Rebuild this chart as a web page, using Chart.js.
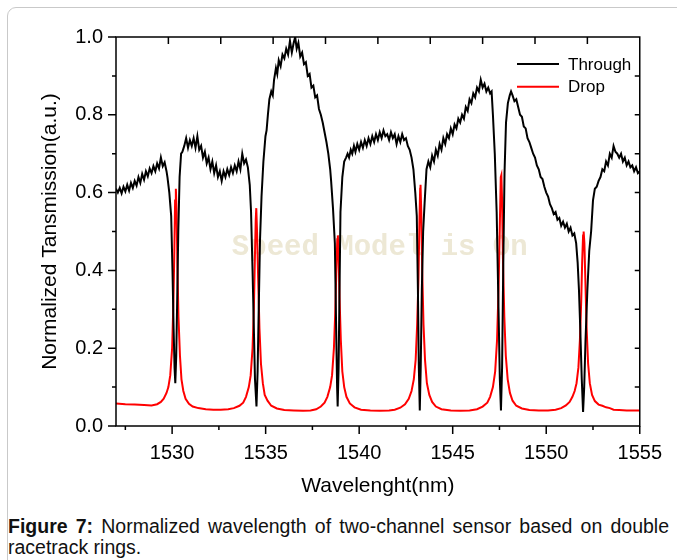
<!DOCTYPE html>
<html>
<head>
<meta charset="utf-8">
<script src="https://cdn.jsdelivr.net/npm/chart.js@4/dist/chart.umd.min.js"></script>
<style>
  html, body { margin: 0; padding: 0; background: #fff; }
  #page { position: relative; width: 677px; height: 560px; overflow: hidden; }
  #frame { position: absolute; left: 7px; top: 7px; width: 720px; height: 620px;
           border: 1px solid #c9c9c9; border-radius: 9px; box-sizing: border-box; }
  #chart { position: absolute; left: 0; top: 0; }
  .cap { position: absolute; left: 8px; width: 661px; font-family: "Liberation Sans", Arial, sans-serif;
         font-size: 19.5px; line-height: 21px; color: #111; white-space: nowrap; }
  #cap1 { top: 516px; text-align: justify; text-align-last: justify; white-space: normal; }
  #cap2 { top: 537px; }
</style>
</head>
<body>
<div id="page">
  <div id="frame"></div>
  <canvas id="chart" width="677" height="510"></canvas>
  <div class="cap" id="cap1"><b>Figure 7:</b> Normalized wavelength of two-channel sensor based on double</div>
  <div class="cap" id="cap2">racetrack rings.</div>
</div>
<script>
// ---------- data ----------
const throughWl = [
1527.0,1527.1,1527.2,1527.3,1527.4,1527.5,1527.6,1527.7,1527.8,1527.9,
1528.0,1528.1,1528.2,1528.3,1528.4,1528.5,1528.6,1528.7,1528.8,1528.9,
1529.0,1529.1,1529.2,1529.3,1529.4,1529.5,1529.6,1529.7,
1529.75,1529.85,1529.95,1530.02,1530.08,1530.13,1530.17,1530.22,1530.27,1530.33,1530.40,1530.48,
1530.55,1530.65,1530.75,1530.85,1530.95,1531.05,1531.15,1531.25,1531.35,1531.45,
1531.55,1531.65,1531.75,1531.85,1531.95,1532.05,1532.15,1532.25,1532.35,1532.45,
1532.55,1532.65,1532.75,1532.85,1532.95,1533.05,1533.15,1533.25,1533.35,1533.45,
1533.55,1533.65,1533.75,1533.85,1533.95,1534.05,1534.15,
1534.22,1534.30,1534.37,1534.43,1534.51,1534.57,1534.63,1534.70,1534.78,1534.88,1534.99,
1535.05,1535.12,1535.20,1535.30,1535.38,1535.45,1535.55,1535.62,1535.70,1535.80,
1535.90,1536.00,1536.10,1536.20,1536.30,1536.40,1536.50,1536.58,1536.66,1536.75,
1536.85,1536.95,1537.05,1537.15,1537.25,1537.35,1537.45,1537.55,1537.65,1537.75,
1537.85,1537.95,1538.05,1538.15,1538.25,1538.35,1538.45,
1538.50,1538.60,1538.70,1538.77,1538.82,1538.85,1538.90,1538.95,1539.00,1539.10,1539.20,
1539.30,1539.38,1539.46,1539.55,1539.63,1539.72,1539.80,1539.90,1540.00,1540.10,
1540.20,1540.30,1540.40,1540.50,1540.60,1540.70,1540.80,1540.90,1541.00,1541.10,
1541.20,1541.30,1541.40,1541.50,1541.60,1541.70,1541.80,1541.90,1542.00,1542.10,
1542.20,1542.30,1542.40,1542.50,1542.60,
1542.70,1542.80,1542.90,1543.00,1543.08,1543.14,1543.19,1543.24,1543.29,1543.35,1543.42,1543.50,1543.60,
1543.70,1543.80,1543.90,1544.00,1544.10,1544.20,1544.30,1544.40,1544.50,1544.60,
1544.70,1544.80,1544.90,1545.00,1545.10,1545.20,1545.30,1545.40,1545.50,1545.60,
1545.70,1545.80,1545.90,1546.00,1546.10,1546.20,1546.30,1546.40,1546.50,1546.60,
1546.70,1546.80,1546.90,1547.00,1547.08,
1547.15,1547.25,1547.35,1547.45,1547.52,1547.58,1547.64,1547.70,1547.77,1547.85,1547.95,1548.05,1548.12,
1548.20,1548.30,1548.40,1548.50,1548.60,1548.70,1548.80,1548.90,1549.00,1549.10,
1549.20,1549.30,1549.40,1549.50,1549.60,1549.70,1549.80,1549.90,1550.00,1550.10,
1550.20,1550.30,1550.40,1550.50,1550.60,1550.70,1550.80,1550.90,1551.00,1551.10,
1551.20,1551.30,1551.40,1551.50,1551.60,
1551.68,1551.75,1551.82,1551.90,1551.97,1552.03,1552.10,1552.20,1552.30,1552.40,
1552.50,1552.60,1552.70,1552.80,1552.90,1553.00,1553.10,1553.20,1553.30,1553.40,
1553.50,1553.60,1553.70,1553.80,1553.90,1554.00,1554.10,1554.20,1554.30,1554.40,
1554.50,1554.60,1554.70,1554.80,1554.90,1555.00
];
const throughVal = [
0.610,0.600,0.612,0.598,0.615,0.603,0.620,0.605,0.625,0.612,
0.630,0.618,0.640,0.625,0.648,0.633,0.655,0.642,0.662,0.650,
0.668,0.655,0.675,0.662,0.690,0.668,0.678,0.655,
0.640,0.600,0.540,0.400,0.250,0.150,0.110,0.180,0.320,0.500,0.640,0.700,
0.705,0.720,0.740,0.715,0.735,0.720,0.740,0.715,0.745,0.710,
0.720,0.690,0.705,0.675,0.690,0.660,0.680,0.650,0.670,0.640,
0.655,0.630,0.655,0.640,0.660,0.645,0.665,0.650,0.670,0.655,
0.680,0.660,0.700,0.675,0.685,0.665,0.620,
0.550,0.400,0.250,0.120,0.050,0.140,0.300,0.480,0.590,0.680,0.745,
0.760,0.800,0.840,0.860,0.850,0.890,0.920,0.905,0.940,0.925,
0.955,0.945,0.970,0.955,0.990,0.960,0.985,1.000,0.970,0.985,
0.950,0.960,0.930,0.935,0.900,0.905,0.870,0.875,0.845,0.850,
0.815,0.800,0.780,0.755,0.730,0.700,0.660,
0.630,0.560,0.470,0.250,0.100,0.050,0.150,0.350,0.550,0.640,0.680,
0.690,0.700,0.690,0.710,0.700,0.720,0.705,0.725,0.710,0.730,
0.715,0.735,0.720,0.740,0.725,0.745,0.730,0.750,0.735,0.755,
0.740,0.760,0.745,0.750,0.735,0.755,0.740,0.750,0.725,0.745,
0.730,0.750,0.735,0.740,0.720,
0.710,0.690,0.660,0.600,0.540,0.350,0.150,0.040,0.150,0.350,0.500,0.575,0.660,
0.680,0.665,0.695,0.680,0.710,0.695,0.725,0.710,0.740,0.725,
0.750,0.740,0.765,0.750,0.775,0.765,0.790,0.780,0.800,0.790,
0.820,0.810,0.840,0.830,0.855,0.845,0.870,0.860,0.890,0.870,
0.880,0.860,0.870,0.855,0.860,
0.800,0.700,0.550,0.300,0.120,0.040,0.150,0.400,0.650,0.780,0.830,0.850,0.860,
0.850,0.835,0.840,0.820,0.800,0.795,0.770,0.765,0.740,0.730,
0.715,0.700,0.690,0.670,0.660,0.640,0.635,0.615,0.600,0.590,
0.570,0.560,0.545,0.550,0.530,0.535,0.515,0.525,0.510,0.520,
0.500,0.510,0.490,0.495,0.470,
0.420,0.350,0.250,0.120,0.036,0.100,0.220,0.350,0.450,0.500,
0.580,0.610,0.615,0.630,0.640,0.660,0.655,0.680,0.670,0.700,
0.690,0.720,0.705,0.700,0.690,0.700,0.680,0.690,0.670,0.680,
0.665,0.670,0.655,0.665,0.650,0.655
];
const dropWl = [
1527.0,1527.5,1528.0,1528.5,1528.9,1529.2,1529.4,1529.55,1529.7,1529.8,1529.9,1530.0,1530.07,1530.12,1530.16,1530.2,
1530.24,1530.28,1530.34,1530.42,1530.5,1530.6,1530.72,1530.9,1531.1,1531.4,1531.8,1532.2,1532.6,1533.0,1533.3,1533.6,
1533.8,1533.95,1534.1,1534.2,1534.3,1534.37,1534.42,1534.47,1534.5,1534.54,1534.6,1534.67,1534.75,1534.85,1534.95,1535.1,
1535.3,1535.6,1536.0,1536.5,1537.0,1537.4,1537.7,1537.95,1538.15,1538.3,1538.45,1538.55,1538.65,1538.72,1538.78,1538.83,
1538.86,1538.9,1538.95,1539.02,1539.1,1539.2,1539.32,1539.5,1539.75,1540.1,1540.6,1541.1,1541.6,1541.9,1542.2,1542.45,
1542.65,1542.8,1542.92,1543.02,1543.1,1543.17,1543.22,1543.26,1543.28,1543.32,1543.37,1543.44,1543.52,1543.62,1543.75,1543.9,
1544.1,1544.4,1544.9,1545.4,1545.9,1546.3,1546.6,1546.85,1547.0,1547.15,1547.27,1547.37,1547.45,1547.52,1547.57,1547.6,
1547.64,1547.69,1547.76,1547.84,1547.94,1548.06,1548.2,1548.4,1548.7,1549.1,1549.6,1550.1,1550.5,1550.8,1551.05,1551.25,
1551.4,1551.52,1551.62,1551.72,1551.8,1551.87,1551.92,1551.97,1552.0,1552.04,1552.1,1552.16,1552.24,1552.33,1552.45,1552.6,
1552.8,1553.0,1553.2,1553.4,1553.6,1553.9,1554.3,1554.7,1555.0
];
const dropVal = [
0.058,0.056,0.055,0.054,0.053,0.056,0.062,0.070,0.085,0.100,0.130,0.200,0.320,0.450,0.580,0.610,
0.550,0.420,0.280,0.180,0.120,0.090,0.070,0.057,0.050,0.046,0.043,0.042,0.042,0.043,0.046,0.052,
0.060,0.075,0.100,0.130,0.200,0.300,0.420,0.530,0.560,0.500,0.380,0.250,0.160,0.110,0.080,0.065,
0.052,0.045,0.041,0.040,0.039,0.040,0.043,0.050,0.060,0.075,0.100,0.130,0.200,0.290,0.400,0.480,
0.490,0.440,0.330,0.220,0.140,0.100,0.075,0.058,0.048,0.042,0.040,0.039,0.040,0.042,0.047,0.056,
0.070,0.090,0.120,0.170,0.260,0.380,0.520,0.610,0.620,0.550,0.400,0.260,0.170,0.110,0.080,0.062,
0.050,0.043,0.040,0.039,0.040,0.043,0.050,0.060,0.075,0.100,0.140,0.220,0.350,0.520,0.640,0.645,
0.580,0.420,0.280,0.180,0.120,0.085,0.065,0.052,0.045,0.041,0.040,0.040,0.042,0.046,0.053,0.062,
0.075,0.090,0.110,0.150,0.220,0.320,0.420,0.490,0.500,0.470,0.360,0.250,0.160,0.110,0.080,0.064,
0.055,0.052,0.048,0.046,0.042,0.041,0.040,0.040,0.040
];
const xMajorTicks = [1530, 1535, 1540, 1545, 1550, 1555];
const xMinorTicks = [1527.5, 1532.5, 1537.5, 1542.5, 1547.5, 1552.5];
const xTopTicks = [1529.8, 1532.6, 1535.4, 1538.2, 1541.0, 1543.8, 1546.6, 1549.4, 1552.2];
const yMajorTicks = [0.0, 0.2, 0.4, 0.6, 0.8, 1.0];
const yMinorTicks = [0.1, 0.3, 0.5, 0.7, 0.9];
const seriesNames = ['Through', 'Drop'];
const seriesColors = ['#000000', '#ff0000'];
const xTitle = 'Wavelenght(nm)';
const yTitle = 'Normalized Tansmission(a.u.)';
const watermark = 'Speed Model is On';

// ---------- chart ----------
const FONT = '"Liberation Sans", Arial, sans-serif';
const toPoints = (xs, ys) => xs.map((x, i) => ({ x: x, y: ys[i] }));

const decorPlugin = {
  id: 'decor',
  beforeDatasetsDraw(chart) {
    const { ctx } = chart;
    ctx.save();
    ctx.font = 'bold 29px "Liberation Mono", "Courier New", monospace';
    ctx.fillStyle = '#ede8d5';
    ctx.textAlign = 'center';
    ctx.textBaseline = 'middle';
    ctx.fillText(watermark, chart.scales.x.getPixelForValue(1541.1), chart.scales.y.getPixelForValue(0.458));
    ctx.restore();
  },
  afterDatasetsDraw(chart) {
    const { ctx, chartArea: ca } = chart;
    const xs = chart.scales.x, ys = chart.scales.y;
    ctx.save();
    ctx.strokeStyle = '#000';
    ctx.lineWidth = 1.5;
    ctx.strokeRect(ca.left, ca.top, ca.right - ca.left, ca.bottom - ca.top);
    ctx.beginPath();
    xMajorTicks.forEach(v => { const p = xs.getPixelForValue(v); ctx.moveTo(p, ca.bottom); ctx.lineTo(p, ca.bottom + 8); });
    xMinorTicks.forEach(v => { const p = xs.getPixelForValue(v); ctx.moveTo(p, ca.bottom); ctx.lineTo(p, ca.bottom + 4); });
    xTopTicks.forEach(v => { const p = xs.getPixelForValue(v); ctx.moveTo(p, ca.top); ctx.lineTo(p, ca.top + 7); });
    yMajorTicks.forEach(v => { const p = ys.getPixelForValue(v); ctx.moveTo(ca.left - 8, p); ctx.lineTo(ca.left, p); });
    yMinorTicks.forEach(v => { const p = ys.getPixelForValue(v); ctx.moveTo(ca.left - 4, p); ctx.lineTo(ca.left, p); });
    yMajorTicks.concat(yMinorTicks).forEach(v => {
      if (v <= 0 || v >= 1) return;
      const p = ys.getPixelForValue(v); ctx.moveTo(ca.right - 5, p); ctx.lineTo(ca.right, p);
    });
    ctx.stroke();
    // legend
    ctx.font = '17px ' + FONT;
    ctx.textBaseline = 'middle';
    ctx.textAlign = 'left';
    chart.data.datasets.forEach((ds, i) => {
      const y = 64 + i * 22.7;
      ctx.strokeStyle = ds.borderColor;
      ctx.lineWidth = 2;
      ctx.beginPath(); ctx.moveTo(517, y); ctx.lineTo(559, y); ctx.stroke();
      ctx.fillStyle = '#000';
      ctx.fillText(ds.label, 568, y + 1);
    });
    ctx.restore();
  }
};

new Chart(document.getElementById('chart'), {
  type: 'scatter',
  data: {
    datasets: [
      { label: seriesNames[0], data: toPoints(throughWl, throughVal), borderColor: seriesColors[0],
        backgroundColor: seriesColors[0], showLine: true, pointRadius: 0, borderWidth: 2, tension: 0 },
      { label: seriesNames[1], data: toPoints(dropWl, dropVal), borderColor: seriesColors[1],
        backgroundColor: seriesColors[1], showLine: true, pointRadius: 0, borderWidth: 2, tension: 0 }
    ]
  },
  options: {
    responsive: false,
    animation: false,
    layout: { padding: { left: 0, top: 37, right: 33, bottom: 0 } },
    plugins: { legend: { display: false }, tooltip: { enabled: false } },
    scales: {
      x: {
        type: 'linear', min: 1527, max: 1555,
        afterBuildTicks: s => { s.ticks = xMajorTicks.map(v => ({ value: v })); },
        afterFit: s => { s.height = 84; },
        grid: { display: false, drawTicks: false },
        border: { display: false },
        ticks: { color: '#000', font: { family: FONT, size: 20 }, padding: 15, maxRotation: 0, autoSkip: false,
                 callback: v => String(v) },
        title: { display: true, text: xTitle, color: '#000', font: { family: FONT, size: 21 }, padding: { top: 11, bottom: 11 } }
      },
      y: {
        type: 'linear', min: 0, max: 1,
        afterBuildTicks: s => { s.ticks = yMajorTicks.map(v => ({ value: v })); },
        afterFit: s => { s.width = 116; },
        grid: { display: false, drawTicks: false },
        border: { display: false },
        ticks: { color: '#000', font: { family: FONT, size: 20 }, padding: 13, callback: v => Number(v).toFixed(1) },
        title: { display: true, text: yTitle, color: '#000', font: { family: FONT, size: 21 }, padding: { top: 38, bottom: 0 } }
      }
    }
  },
  plugins: [decorPlugin]
});
</script>
</body>
</html>
